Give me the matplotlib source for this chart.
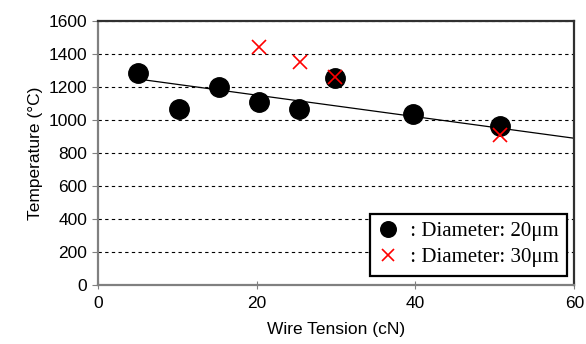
import numpy as np
import matplotlib.pyplot as plt

# wire tension (cN) and temperature (C)
tension_20 = [5.1, 10.2, 15.3, 20.3, 25.3, 29.9, 39.7, 50.7]
temp_20 = [1288, 1065, 1203, 1110, 1065, 1258, 1035, 967]
tension_30 = [20.3, 25.5, 29.9, 50.7]
temp_30 = [1445, 1355, 1262, 907]
# trend line
trend_x = [5, 60]
trend_y = [1250, 890]

plt.rcParams['font.family'] = ['Liberation Sans', 'DejaVu Sans']

fig = plt.figure(figsize=(5.86, 3.44), dpi=100)
ax = fig.add_axes([0.167, 0.172, 0.813, 0.766])

ax.plot(trend_x, trend_y, color='black', lw=0.9, zorder=2)

ax.plot(tension_20, temp_20, 'o', color='black', ms=14, ls='none', zorder=3,
        label=' : Diameter: 20μm')
ax.plot(tension_30, temp_30, 'x', color='red', ms=10, mew=1.2, ls='none', zorder=4,
        label=' : Diameter: 30μm')

ax.set_xlim(0, 60)
ax.set_ylim(0, 1600)
ax.set_xticks([0, 20, 40, 60])
ax.set_yticks(range(0, 1601, 200))
ax.yaxis.grid(True, ls=(0, (3, 3)), color='black', lw=0.8)
ax.set_axisbelow(True)

for s in ['left', 'bottom']:
    ax.spines[s].set_color('#808080')
    ax.spines[s].set_linewidth(1.6)
for s in ['right', 'top']:
    ax.spines[s].set_color('#303030')
    ax.spines[s].set_linewidth(1.6)
ax.tick_params(labelsize=12.5, color='#808080', length=4)
ax.tick_params(axis='x', direction='inout', length=6, pad=5)

ax.set_xlabel('Wire Tension (cN)', fontsize=12.5, labelpad=8)
ax.set_ylabel('Temperature (°C)', fontsize=12.5, labelpad=4)

leg = ax.legend(loc='lower right', bbox_to_anchor=(0.985, 0.035), fancybox=False,
                edgecolor='black', framealpha=1, handletextpad=0.3,
                prop={'family': 'Liberation Serif', 'size': 15},
                borderpad=0.4, labelspacing=0.3, handlelength=1.0,
                markerscale=0.8, borderaxespad=0)
leg.get_frame().set_linewidth(1.6)

fig.savefig('out.png', dpi=100)
